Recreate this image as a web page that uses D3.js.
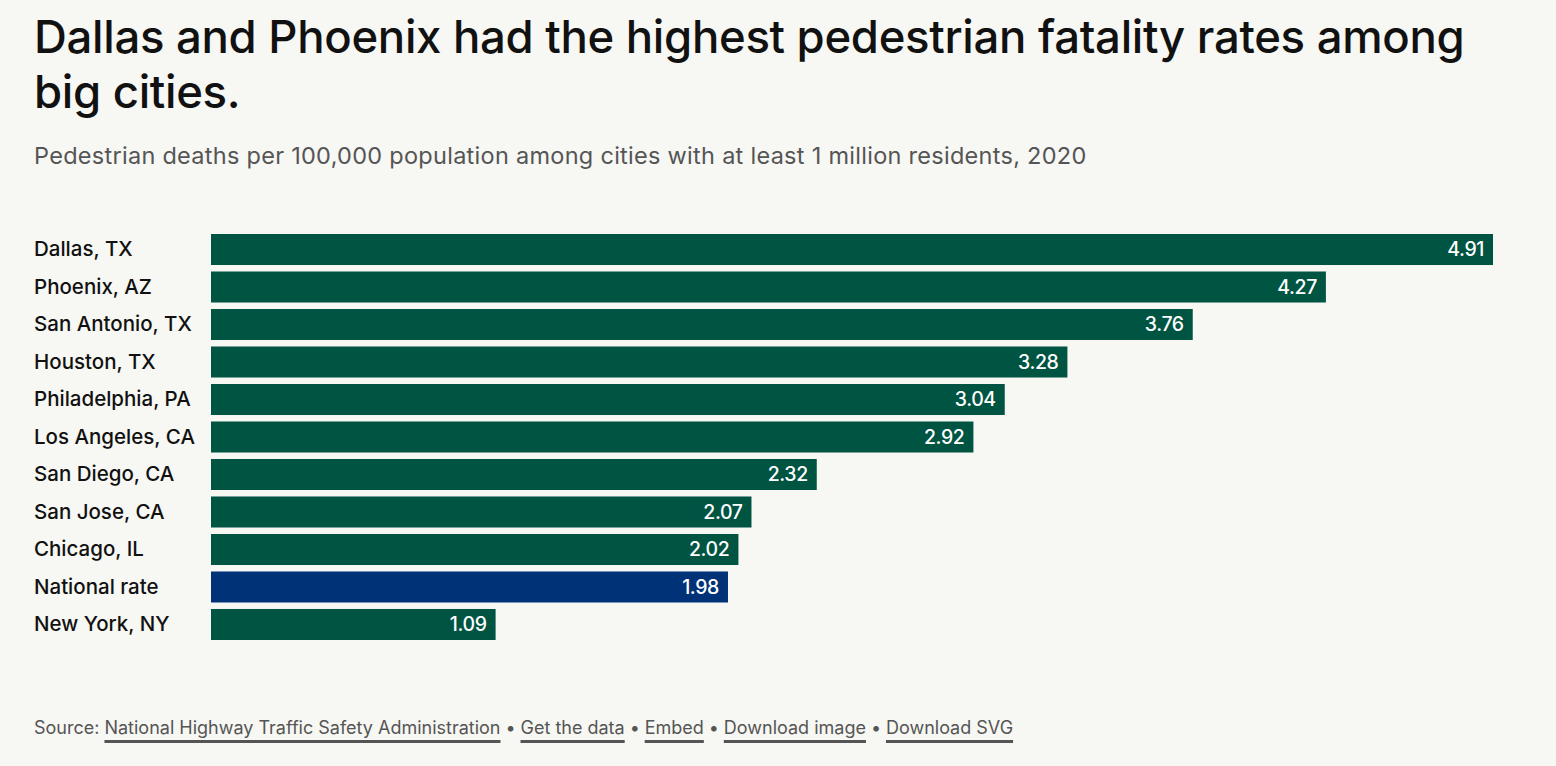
<!DOCTYPE html>
<html>
<head>
<meta charset="utf-8">
<script src="https://cdn.jsdelivr.net/npm/d3@7"></script>
<style>
    html, body { margin: 0; padding: 0; background: #f7f7f3; }
    svg { display: block; font-family: Inter, "Noto Sans", sans-serif; }
</style>
</head>
<body>
<div id="chart"></div>
<script>
const cities = ["Dallas, TX", "Phoenix, AZ", "San Antonio, TX", "Houston, TX", "Philadelphia, PA",
    "Los Angeles, CA", "San Diego, CA", "San Jose, CA", "Chicago, IL", "National rate", "New York, NY"]
const rates = [4.91, 4.27, 3.76, 3.28, 3.04, 2.92, 2.32, 2.07, 2.02, 1.98, 1.09]
const highlight = ["National rate"]
const footerLinks = ["National Highway Traffic Safety Administration", "Get the data", "Embed", "Download image", "Download SVG"]

const width = 1556, height = 766
const data = cities.map((c, i) => ({ city: c, rate: rates[i] }))

const svg = d3.select('#chart').append('svg')
    .attr('width', width)
    .attr('height', height)

svg.append('rect').attr('width', width).attr('height', height).attr('fill', '#f7f7f3')

// title + subtitle
const title = svg.append('text')
    .attr('x', 34)
    .attr('font-size', 45.5)
    .attr('font-weight', 500)
    .attr('fill', '#111')
    .attr('letter-spacing', -0.3)
title.append('tspan').attr('x', 34).attr('y', 53).text('Dallas and Phoenix had the highest pedestrian fatality rates among')
title.append('tspan').attr('x', 34).attr('y', 108).text('big cities.')

svg.append('text')
    .attr('x', 34).attr('y', 164)
    .attr('font-size', 23.5)
    .attr('fill', '#555')
    .attr('letter-spacing', 0.28)
    .text('Pedestrian deaths per 100,000 population among cities with at least 1 million residents, 2020')

// bars
const x = d3.scaleLinear()
    .domain([0, d3.max(rates)])
    .range([211, 1493])

const y = d3.scaleBand()
    .domain(cities)
    .range([234, 640])
    .paddingInner(0.173)
    .paddingOuter(0)

const rows = svg.append('g').selectAll('g')
    .data(data)
    .join('g')

rows.append('rect')
    .attr('x', x(0))
    .attr('y', d => y(d.city))
    .attr('width', d => x(d.rate) - x(0))
    .attr('height', y.bandwidth())
    .attr('fill', d => highlight.includes(d.city) ? '#003278' : '#005442')

rows.append('text')
    .attr('x', 34)
    .attr('y', d => y(d.city) + y.bandwidth() / 2)
    .attr('dy', '0.33em')
    .attr('font-size', 20.5)
    .attr('font-weight', 500)
    .attr('fill', '#111')
    .text(d => d.city)

rows.append('text')
    .attr('x', d => x(d.rate) - 9)
    .attr('y', d => y(d.city) + y.bandwidth() / 2)
    .attr('dy', '0.34em')
    .attr('text-anchor', 'end')
    .attr('font-size', 19.5)
    .attr('font-weight', 500)
    .attr('letter-spacing', -0.4)
    .attr('fill', '#fff')
    .text(d => d.rate.toFixed(2))

// footer
const footer = svg.append('g').attr('font-size', 18).attr('fill', '#555')
let fx = 34
const src = footer.append('text').attr('x', fx).attr('y', 734).text('Source:')
fx += src.node().getComputedTextLength() + 5
footerLinks.forEach((t, i) => {
    if (i > 0) {
        const dot = footer.append('text').attr('x', fx + 10).attr('y', 734)
            .attr('text-anchor', 'middle').text('•')
        fx += 20
    }
    const link = footer.append('text').attr('x', fx).attr('y', 734).text(t)
    const w = link.node().getComputedTextLength()
    footer.append('rect')
        .attr('x', fx).attr('y', 740)
        .attr('width', w).attr('height', 3)
        .attr('fill', '#555')
    fx += w
})
</script>
</body>
</html>
